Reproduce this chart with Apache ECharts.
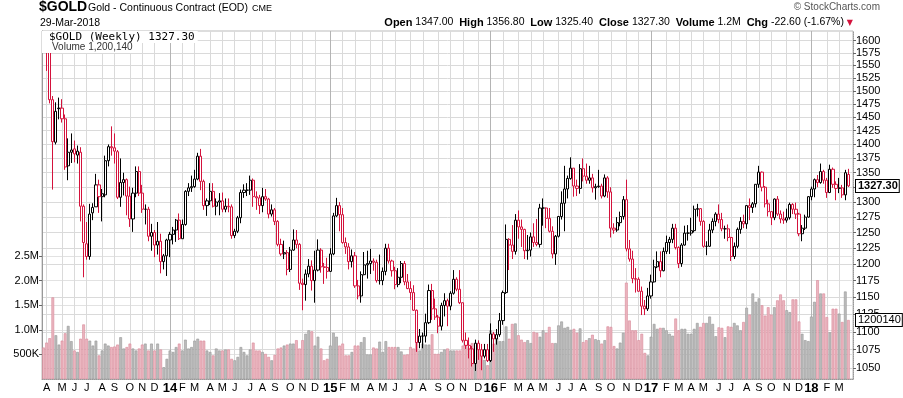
<!DOCTYPE html>
<html>
<head>
<meta charset="utf-8">
<script src="https://cdn.jsdelivr.net/npm/echarts@6/dist/echarts.min.js"></script>
<style>
  html, body { margin: 0; padding: 0; background: #fff; }
  #chart { width: 903px; height: 398px; }
</style>
</head>
<body>
<div id="chart"></div>
<script>
// weekly bars of the continuous gold contract, first week starts Mon 25-Mar-2013
const opens = [
  1606,1596,1580,1483,1404,1466,1467,1447,1362,1386,
  1392,1381,1386,1293,1232,1212,1282,1292,1329,1309,
  1312,1371,1396,1394,1387,1308,1333,1338,1310,1272,
  1315,1352,1315,1288,1288,1244,1250,1230,1236,1204,
  1213,1238,1247,1254,1270,1240,1263,1318,1324,1326,
  1339,1379,1335,1294,1302,1318,1293,1300,1302,1288,
  1293,1292,1245,1252,1274,1316,1320,1320,1337,1309,
  1307,1294,1309,1305,1280,1287,1268,1231,1216,1218,
  1192,1222,1238,1231,1171,1169,1185,1197,1175,1191,
  1222,1196,1195,1189,1216,1277,1294,1279,1234,1227,
  1204,1213,1167,1152,1184,1199,1201,1205,1203,1175,
  1175,1189,1225,1205,1190,1169,1180,1201,1173,1163,
  1157,1131,1085,1094,1094,1113,1160,1133,1121,1108,
  1138,1145,1137,1156,1177,1162,1142,1088,1081,1076,
  1056,1084,1075,1066,1075,1060,1097,1090,1096,1116,
  1157,1239,1230,1220,1270,1259,1255,1221,1222,1243,
  1234,1231,1290,1290,1273,1252,1216,1244,1276,1298,
  1322,1340,1358,1327,1323,1357,1344,1337,1341,1324,
  1326,1327,1310,1341,1317,1257,1254,1266,1276,1304,
  1224,1208,1178,1177,1159,1137,1133,1152,1173,1196,
  1204,1190,1220,1234,1239,1257,1226,1201,1230,1249,
  1249,1253,1288,1289,1268,1228,1228,1254,1268,1280,
  1271,1256,1256,1242,1212,1228,1255,1268,1264,1294,
  1291,1297,1330,1351,1325,1297,1284,1274,1305,1280,
  1272,1270,1274,1296,1288,1280,1248,1257,1275,1309,
  1322,1338,1333,1352,1337,1316,1356,1330,1323,1324,
  1312,1347
]
const highs = [
  1609,1605,1592,1490,1478,1487,1484,1455,1411,1420,
  1407,1398,1395,1296,1267,1297,1298,1348,1338,1322,
  1380,1400,1433,1420,1390,1375,1350,1340,1326,1324,
  1361,1361,1329,1296,1292,1264,1254,1267,1248,1216,
  1240,1251,1259,1272,1281,1271,1320,1332,1345,1355,
  1385,1392,1338,1306,1332,1332,1306,1315,1316,1306,
  1306,1296,1256,1277,1321,1330,1332,1345,1340,1318,
  1312,1324,1322,1307,1296,1290,1270,1240,1237,1222,
  1227,1255,1254,1233,1178,1192,1208,1206,1221,1239,
  1225,1202,1210,1225,1282,1307,1300,1290,1242,1233,
  1223,1219,1176,1189,1219,1221,1224,1209,1207,1215,
  1195,1232,1232,1207,1196,1194,1205,1205,1185,1174,
  1168,1132,1104,1099,1126,1169,1170,1148,1124,1142,
  1156,1148,1159,1191,1180,1191,1142,1099,1092,1080,
  1089,1088,1083,1083,1083,1112,1100,1104,1127,1160,
  1263,1241,1262,1280,1286,1271,1256,1246,1250,1265,
  1272,1297,1306,1291,1290,1260,1246,1277,1318,1362,
  1345,1377,1358,1338,1365,1375,1366,1362,1348,1331,
  1355,1331,1347,1344,1325,1265,1275,1284,1310,1338,
  1238,1221,1194,1180,1166,1146,1164,1184,1207,1220,
  1220,1226,1245,1243,1264,1264,1228,1233,1261,1262,
  1274,1294,1297,1290,1270,1236,1264,1273,1283,1296,
  1282,1261,1263,1243,1234,1258,1275,1279,1295,1306,
  1300,1330,1362,1352,1327,1304,1285,1306,1310,1286,
  1284,1289,1299,1298,1299,1282,1262,1279,1310,1326,
  1340,1346,1366,1355,1341,1364,1359,1335,1341,1329,
  1355,1356.8
]
const lows = [
  1590,1539,1476,1321,1400,1446,1440,1355,1337,1367,
  1368,1366,1268,1180,1207,1207,1270,1292,1282,1268,
  1308,1361,1380,1366,1305,1292,1311,1278,1259,1251,
  1308,1310,1282,1263,1236,1221,1211,1215,1186,1192,
  1182,1211,1231,1235,1238,1240,1261,1310,1317,1324,
  1337,1320,1287,1277,1295,1291,1278,1278,1283,1283,
  1283,1240,1241,1249,1265,1307,1310,1312,1292,1287,
  1280,1283,1302,1273,1276,1262,1228,1213,1208,1183,
  1188,1221,1225,1161,1131,1145,1180,1160,1142,1189,
  1187,1170,1178,1188,1214,1275,1252,1232,1216,1192,
  1195,1164,1147,1142,1183,1178,1185,1190,1172,1169,
  1168,1183,1201,1181,1162,1165,1171,1168,1162,1146,
  1130,1072,1077,1077,1085,1111,1117,1117,1098,1102,
  1122,1108,1131,1154,1159,1140,1085,1076,1063,1052,
  1046,1061,1047,1063,1058,1058,1072,1082,1093,1110,
  1155,1191,1208,1215,1240,1227,1208,1207,1212,1227,
  1228,1226,1261,1257,1250,1209,1199,1242,1271,1252,
  1306,1338,1309,1310,1314,1335,1331,1331,1316,1304,
  1324,1306,1308,1307,1242,1248,1251,1260,1271,1220,
  1204,1171,1157,1158,1124,1124,1130,1148,1172,1194,
  1180,1189,1216,1216,1233,1223,1194,1196,1229,1237,
  1245,1250,1276,1261,1226,1214,1227,1249,1260,1265,
  1252,1240,1236,1205,1208,1225,1248,1257,1256,1270,
  1282,1291,1324,1318,1291,1276,1262,1270,1277,1265,
  1264,1266,1271,1280,1272,1244,1236,1254,1274,1303,
  1308,1325,1331,1331,1307,1315,1324,1303,1315,1307,
  1303,1325.4
]
const closes = [
  1596,1581,1483,1405,1461,1467,1447,1360,1386,1390,
  1383,1388,1293,1234,1212,1280,1291,1329,1309,1314,
  1371,1396,1394,1388,1308,1333,1338,1310,1272,1315,
  1352,1315,1288,1288,1244,1250,1230,1236,1204,1213,
  1238,1247,1254,1270,1240,1263,1318,1324,1326,1339,
  1379,1335,1294,1302,1318,1293,1300,1302,1288,1293,
  1292,1245,1252,1274,1316,1320,1320,1337,1309,1307,
  1294,1309,1305,1280,1287,1268,1231,1216,1218,1192,
  1222,1238,1231,1171,1169,1185,1197,1175,1191,1222,
  1196,1195,1189,1216,1277,1294,1279,1234,1227,1204,
  1213,1167,1152,1184,1199,1201,1205,1203,1175,1175,
  1189,1225,1205,1190,1169,1180,1201,1173,1163,1157,
  1131,1085,1094,1094,1113,1160,1133,1121,1108,1138,
  1145,1137,1156,1177,1162,1142,1088,1081,1076,1056,
  1084,1075,1066,1075,1060,1097,1090,1096,1116,1157,
  1239,1230,1220,1270,1259,1255,1221,1222,1243,1234,
  1231,1290,1290,1273,1252,1216,1244,1276,1298,1322,
  1340,1358,1327,1323,1357,1344,1337,1341,1324,1326,
  1327,1310,1341,1317,1257,1254,1266,1276,1304,1224,
  1208,1178,1177,1159,1137,1133,1152,1173,1196,1204,
  1190,1220,1234,1239,1257,1226,1201,1230,1249,1249,
  1253,1288,1289,1268,1228,1228,1254,1268,1280,1271,
  1256,1256,1242,1212,1228,1255,1268,1264,1294,1291,
  1297,1330,1351,1325,1297,1284,1274,1305,1280,1272,
  1270,1274,1296,1288,1280,1248,1257,1275,1309,1322,
  1338,1333,1352,1337,1316,1356,1330,1323,1324,1312,
  1350,1327.3
]
// volume in thousands of contracts
const volumeK = [
  640,740,830,1660,890,700,780,930,1080,770,
  580,550,820,1110,820,780,680,780,480,580,
  720,680,650,660,700,850,620,650,720,620,
  580,620,700,720,580,720,580,720,600,240,
  410,580,550,650,720,580,800,620,650,780,
  820,780,780,580,550,480,620,580,580,600,
  600,410,380,450,650,550,480,600,740,580,
  580,550,510,450,380,490,620,640,680,700,
  720,720,790,620,790,920,990,970,680,860,
  620,380,410,680,940,860,680,720,480,480,
  550,680,680,750,850,500,500,640,620,760,
  550,770,650,650,650,650,560,490,500,650,
  620,840,580,720,700,700,910,510,510,550,
  600,620,580,580,580,580,680,750,650,730,
  580,630,550,390,280,990,720,830,770,770,
  1070,820,1120,1130,890,800,750,790,730,960,
  940,860,990,940,1060,730,730,1090,1170,1040,
  1060,1000,1020,940,1030,750,790,830,900,810,
  790,720,790,1070,1060,670,620,740,940,1960,
  1190,990,990,790,920,530,480,860,1120,1020,
  1040,1040,990,920,880,1230,990,1020,1020,920,
  920,1020,1140,1060,1140,1140,1270,1120,870,1050,
  1040,850,1070,1060,1140,1090,990,1160,1450,1310,
  1740,1570,1640,1500,1290,1460,1310,1460,1600,1720,
  1600,1400,1360,1620,1620,1170,920,790,770,1270,
  1570,2010,1740,1740,1260,950,1430,1430,1330,1160,
  1780,1200.14
]
const priceTicks = [1050,1075,1100,1125,1150,1175,1200,1225,1250,1275,1300,1325,1350,
  1375,1400,1425,1450,1475,1500,1525,1550,1575,1600]
const volumeTicks = [500,1000,1500,2000,2500]
const monthLetters = ['J','F','M','A','M','J','J','A','S','O','N','D']

const RED = '#d4123c'

// week categories (Mondays) plus one empty slot at the right edge
const weeks = []
let d = new Date(Date.UTC(2013, 2, 25))
for (let i = 0; i < closes.length; i++) {
  weeks.push(d.toISOString().slice(0, 10))
  d = new Date(d.getTime() + 7 * 86400000)
}
const categories = weeks.concat([''])

function monthStart(idx, val) {
  return !!val && Number(val.slice(8, 10)) <= 7
}
function yearStart(idx, val) {
  return monthStart(idx, val) && val.slice(5, 7) === '01'
}

const candleData = closes.map((c, i) => {
  const prev = i > 0 ? closes[i - 1] : opens[i]
  const col = c < prev ? RED : '#000'
  return {
    value: [opens[i], c, lows[i], highs[i]],
    itemStyle: { color: '#fff', color0: col, borderColor: col, borderColor0: col }
  }
})

const volumeData = volumeK.map((v, i) => {
  const down = i > 0 ? closes[i] < closes[i - 1] : closes[i] < opens[i]
  return {
    value: v,
    itemStyle: down
      ? { color: '#ebb6c0', borderColor: '#d98797', borderWidth: 0.6 }
      : { color: '#bcbcbc', borderColor: '#959595', borderWidth: 0.6 }
  }
})

const font = "'Liberation Sans', Arial, sans-serif"
const tagLabel = {
  show: true, position: 'end', distance: 3,
  color: '#000', fontSize: 11, fontFamily: font, backgroundColor: '#fff',
  borderColor: '#000', borderWidth: 1, padding: [1, 1, 0, 2]
}

const chart = echarts.init(document.getElementById('chart'), null, { renderer: 'canvas' })

chart.setOption({
  animation: false,
  backgroundColor: '#fff',
  textStyle: { fontFamily: font },
  title: [
    { text: '$GOLD', left: 39, top: 0, padding: 0,
      textStyle: { fontFamily: font, fontWeight: 'bold', fontSize: 14, color: '#000' } },
    { text: 'Gold - Continuous Contract (EOD)', left: 88, top: 3, padding: 0,
      textStyle: { fontFamily: font, fontWeight: 'normal', fontSize: 10.5, color: '#000' } },
    { text: 'CME', left: 252, top: 4, padding: 0,
      textStyle: { fontFamily: font, fontWeight: 'normal', fontSize: 9, color: '#000' } },
    { text: '29-Mar-2018', left: 40, top: 18, padding: 0,
      textStyle: { fontFamily: font, fontWeight: 'normal', fontSize: 10.5, color: '#000' } },
    { text: '© StockCharts.com', right: 23, top: 2, padding: 0,
      textStyle: { fontFamily: font, fontWeight: 'normal', fontSize: 10, color: '#555' } },
    { text: '{b|Open} 1347.00  {b|High} 1356.80  {b|Low} 1325.40  {b|Close} 1327.30  {b|Volume} 1.2M  {b|Chg} -22.60 (-1.67%) {r|▼}',
      right: 50, top: 17, padding: 0,
      textStyle: { fontFamily: font, fontWeight: 'normal', fontSize: 10.5, color: '#000',
        rich: { b: { fontWeight: 'bold', fontSize: 11, fontFamily: font },
                r: { color: RED, fontSize: 8, fontFamily: 'DejaVu Sans' } } } },
    { text: '$GOLD (Weekly) 1327.30', left: 42, top: 31, padding: [1, 3, 0, 7], backgroundColor: '#fff',
      textStyle: { fontFamily: "'DejaVu Sans Mono', monospace", fontWeight: 'normal', fontSize: 11, color: '#000' } },
    { text: 'Volume 1,200,140', left: 42, top: 42, padding: [0, 2, 1, 10], backgroundColor: '#fff',
      textStyle: { fontFamily: font, fontWeight: 'normal', fontSize: 10, color: '#333' } }
  ],
  grid: { left: 42, right: 50, top: 31, bottom: 19, show: true, borderColor: '#bbb', borderWidth: 1 },
  xAxis: [
    {
      type: 'category', data: categories, boundaryGap: true,
      axisLine: { show: true, lineStyle: { color: '#999', type: 'dotted' } },
      axisTick: { show: false },
      axisLabel: {
        interval: monthStart, margin: 3, color: '#000', fontSize: 11, fontFamily: font,
        formatter: v => {
          if (!v) return ''
          const m = Number(v.slice(5, 7))
          return m === 1 ? '{y|' + v.slice(2, 4) + '}' : monthLetters[m - 1]
        },
        rich: { y: { fontWeight: 'bold', fontSize: 13, fontFamily: font, color: '#000' } }
      },
      splitLine: { show: true, interval: monthStart, alignWithLabel: true, lineStyle: { color: '#dadada', width: 1 } }
    },
    {
      type: 'category', data: categories, boundaryGap: true, position: 'top',
      axisLine: { show: false }, axisTick: { show: false }, axisLabel: { show: false },
      splitLine: { show: true, interval: yearStart, alignWithLabel: true, lineStyle: { color: '#b4b4b4', width: 1 } }
    }
  ],
  yAxis: [
    {
      type: 'log', logBase: 10, position: 'right', min: 1035.2, max: 1620.1, scale: true,
      axisLine: { show: true, lineStyle: { color: '#999', type: 'dotted' } },
      axisTick: { show: true, length: 3, customValues: priceTicks, lineStyle: { color: '#666' } },
      axisLabel: { customValues: priceTicks, color: '#000', fontSize: 11, margin: 3, fontFamily: font,
        formatter: v => String(Math.round(v)) },
      splitLine: { show: true, lineStyle: { color: '#dadada' } }
    },
    {
      type: 'value', position: 'left', min: 0, max: 7080,
      axisLine: { show: true, lineStyle: { color: '#999' } },
      axisTick: { show: true, length: 3, customValues: volumeTicks, lineStyle: { color: '#666' } },
      axisLabel: {
        customValues: volumeTicks, color: '#000', fontSize: 11, margin: 3, fontFamily: font,
        formatter: v => v < 1000 ? v + 'K' : (v / 1000).toFixed(1) + 'M'
      },
      splitLine: { show: true, lineStyle: { color: '#e2e2e2' } }
    }
  ],
  series: [
    {
      name: 'Volume', type: 'bar', xAxisIndex: 0, yAxisIndex: 1, clip: false,
      data: volumeData, barCategoryGap: '12%', z: 1,
      markLine: {
        silent: true, symbol: 'none', animation: false,
        lineStyle: { color: 'rgba(0,0,0,0)', width: 1, type: 'solid' },
        label: Object.assign({}, tagLabel, {
          formatter: () => String(Math.round(volumeK[volumeK.length - 1] * 1000))
        }),
        data: [{ yAxis: volumeK[volumeK.length - 1] }]
      }
    },
    {
      name: '$GOLD', type: 'candlestick', xAxisIndex: 0, yAxisIndex: 0, clip: false,
      data: candleData, barWidth: 2.6, z: 3,
      markLine: {
        silent: true, symbol: 'none', animation: false,
        lineStyle: { color: 'rgba(0,0,0,0)', width: 1, type: 'solid' },
        label: Object.assign({}, tagLabel, {
          fontWeight: 'bold',
          formatter: () => closes[closes.length - 1].toFixed(2)
        }),
        data: [{ yAxis: closes[closes.length - 1] }]
      }
    }
  ]
})
</script>
</body>
</html>
